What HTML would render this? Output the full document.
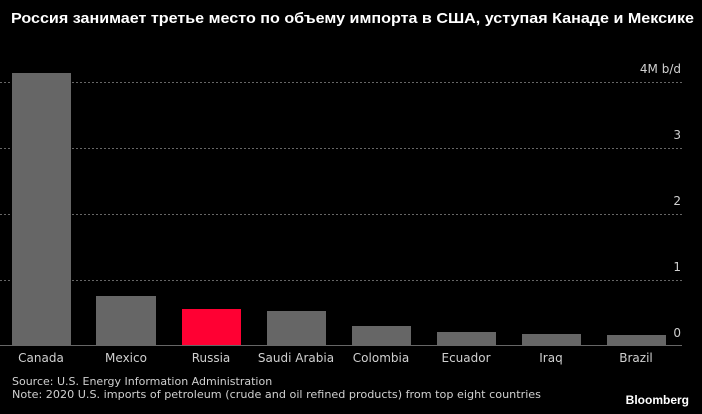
<!DOCTYPE html>
<html><head><meta charset="utf-8"><style>
body{margin:0;background:#000;width:702px;height:410px;overflow:hidden;font-family:"DejaVu Sans","Liberation Sans",sans-serif;}
svg text{fill:#d0d0d0;}
</style></head><body>
<svg width="702" height="410" xmlns="http://www.w3.org/2000/svg">
<rect width="702" height="410" fill="#000"/>
<text x="11" y="23" textLength="683" lengthAdjust="spacingAndGlyphs" style="font-family:'Liberation Sans',sans-serif;font-weight:bold;font-size:15px;fill:#fff">Россия занимает третье место по объему импорта в США, уступая Канаде и Мексике</text>
<g stroke="#666" stroke-width="1" stroke-dasharray="2,2">
<line x1="0" x2="682" y1="82.5" y2="82.5"/>
<line x1="0" x2="682" y1="148.5" y2="148.5"/>
<line x1="0" x2="682" y1="214.5" y2="214.5"/>
<line x1="0" x2="682" y1="280.5" y2="280.5"/>
</g>
<g style="font-size:12px" text-anchor="end">
<text x="681" y="73">4M b/d</text>
<text x="681" y="139">3</text>
<text x="681" y="205">2</text>
<text x="681" y="271">1</text>
<text x="681" y="337">0</text>
</g>
<g fill="#666">
<rect x="12" y="73" width="59" height="272"/>
<rect x="96" y="296" width="60" height="49"/>
<rect x="267" y="311" width="59" height="34"/>
<rect x="352" y="326" width="59" height="19"/>
<rect x="437" y="332" width="59" height="13"/>
<rect x="522" y="334" width="59" height="11"/>
<rect x="607" y="335" width="59" height="10"/>
</g>
<rect x="182" y="309" width="59" height="36" fill="#ff0033"/>
<line x1="0" x2="682" y1="345.5" y2="345.5" stroke="#666"/>
<g style="font-size:12px" text-anchor="middle">
<text x="41" y="362">Canada</text>
<text x="126" y="362">Mexico</text>
<text x="211" y="362">Russia</text>
<text x="296" y="362">Saudi Arabia</text>
<text x="381" y="362">Colombia</text>
<text x="466" y="362">Ecuador</text>
<text x="551" y="362">Iraq</text>
<text x="636" y="362">Brazil</text>
</g>
<text x="12" y="385" style="font-size:11px">Source: U.S. Energy Information Administration</text>
<text x="12" y="398" textLength="529" lengthAdjust="spacingAndGlyphs" style="font-size:11px">Note: 2020 U.S. imports of petroleum (crude and oil refined products) from top eight countries</text>
<text x="689" y="404" text-anchor="end" style="font-family:'Liberation Sans',sans-serif;font-weight:bold;font-size:12px;fill:#fff">Bloomberg</text>
</svg>
</body></html>
